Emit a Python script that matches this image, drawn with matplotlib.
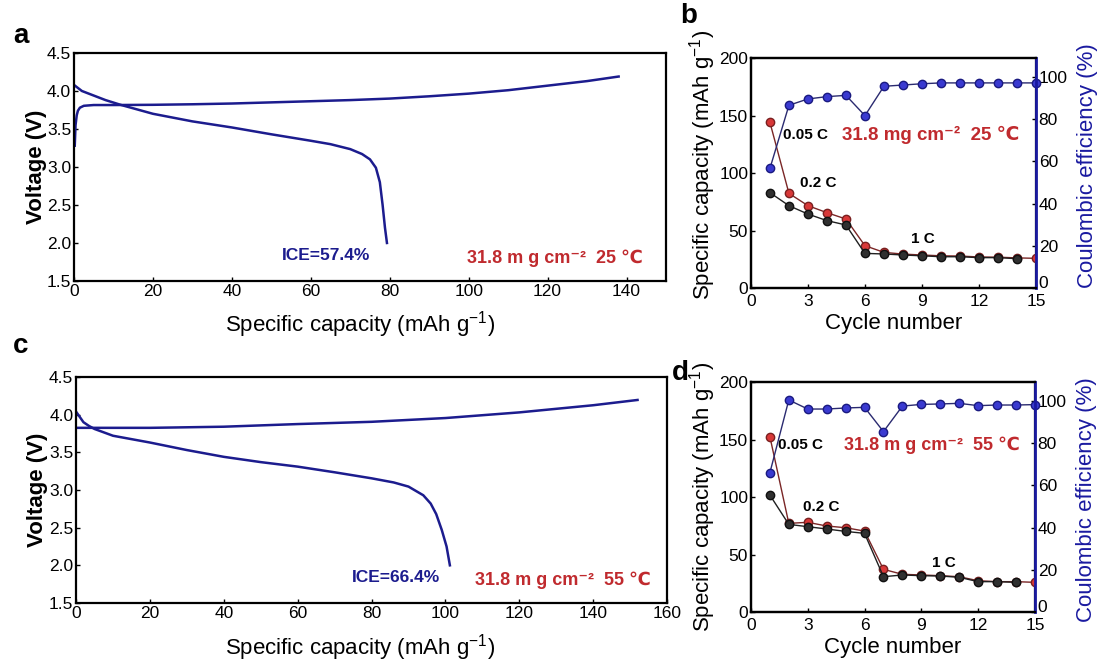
import numpy as np
import matplotlib
matplotlib.use('Agg')
from matplotlib import pyplot as plt

# ---- panel a : first charge / discharge at 25 C
a_charge_cap = [0.2, 0.4, 0.7, 1.0, 1.5, 2.5, 5, 10, 20, 30, 40, 50, 60, 70, 80, 90, 100, 110, 120, 130, 138]
a_charge_v = [3.28, 3.55, 3.68, 3.74, 3.78, 3.805, 3.815, 3.815, 3.818, 3.825, 3.835, 3.85, 3.865, 3.88, 3.90, 3.93, 3.965, 4.01, 4.07, 4.13, 4.19]
a_dis_cap = [0, 2, 5, 8, 12, 20, 30, 40, 50, 60, 65, 70, 73, 75, 76.5, 77.5, 78.2, 78.8, 79.3]
a_dis_v = [4.08, 4.0, 3.94, 3.88, 3.815, 3.70, 3.60, 3.52, 3.43, 3.345, 3.30, 3.235, 3.17, 3.10, 2.99, 2.80, 2.5, 2.2, 2.0]

# ---- panel c : first charge / discharge at 55 C
c_charge_cap = [0, 10, 20, 27, 40, 60, 80, 100, 120, 140, 152]
c_charge_v = [3.825, 3.825, 3.825, 3.83, 3.84, 3.875, 3.905, 3.955, 4.03, 4.125, 4.195]
c_dis_cap = [0, 1, 2, 3.5, 5, 10, 20, 30, 40, 50, 60, 70, 80, 86, 90, 94, 96, 97.5, 99, 100.3, 101.2]
c_dis_v = [4.04, 3.97, 3.90, 3.85, 3.81, 3.72, 3.63, 3.53, 3.44, 3.37, 3.31, 3.235, 3.155, 3.10, 3.045, 2.93, 2.82, 2.68, 2.47, 2.25, 2.0]

# ---- panel b : rate cycling at 25 C
b_cycle_red = list(range(1, 16))
b_red = [144, 82.3, 71.6, 65.5, 60, 36.8, 31, 29.5, 28.7, 28, 27.8, 27, 26.8, 26.2, 25.8]
b_cycle_black = list(range(1, 15))
b_black = [82.9, 71.6, 64.3, 58.6, 54.8, 30.1, 29.6, 28.7, 28, 27.2, 27.2, 26.4, 26.4, 25.5]
b_cycle_ce = list(range(1, 16))
b_ce = [56.7, 86.6, 89.6, 90.7, 91.3, 81.7, 95.6, 96.2, 96.8, 97.2, 97.2, 97.2, 97.2, 97.2, 97.2]

# ---- panel d : rate cycling at 55 C
d_cycle_red = list(range(1, 16))
d_red = [152.5, 77.1, 78, 74.8, 73.3, 70.4, 37.1, 32.8, 32.2, 31.6, 30.7, 27.2, 26.4, 26.4, 25.8]
d_cycle_black = list(range(1, 15))
d_black = [101.7, 76.2, 74.2, 72.2, 70.1, 68.4, 30.7, 32.2, 31.6, 31.3, 30.2, 26.4, 26.4, 25.8]
d_cycle_ce = list(range(1, 16))
d_ce = [66, 100.5, 96.2, 96.2, 96.7, 97, 85.5, 97.6, 98.4, 98.6, 98.9, 97.8, 98.1, 98.1, 98.3]

navy = '#1c1c8e'
red_txt = '#c02a2e'
sans = ['Liberation Sans', 'DejaVu Sans']


def frame(ax, xpad=2):
	for s in ax.spines.values():
		s.set_linewidth(1.6)
	ax.tick_params(direction='in', length=3, width=1, labelsize=12.5, pad=2)
	ax.tick_params(axis='x', pad=xpad)
	for lab in ax.get_xticklabels() + ax.get_yticklabels():
		lab.set_family(sans)


def voltage_panel(ax, ccap, cv, dcap, dv, xmax, xticks, ice, ice_x, temp_x, label):
	ax.plot(ccap, cv, color=navy, lw=1.8)
	ax.plot(dcap, dv, color=navy, lw=1.8)
	ax.set_xlim(0, xmax)
	ax.set_ylim(1.5, 4.5)
	ax.set_xticks(xticks)
	ax.set_yticks(np.arange(1.5, 4.51, 0.5))
	ax.set_yticklabels(['%.1f' % v for v in np.arange(1.5, 4.51, 0.5)])
	frame(ax)
	ax.text(ice_x, 1.84, ice, color=navy, fontsize=12.5, fontweight='bold', family=sans, va='center')
	ax.text(temp_x, 1.80, label, color=red_txt, fontsize=13, fontweight='bold', family=sans, va='center')
	ax.set_xlabel('Specific capacity (mAh g$^{-1}$)', fontsize=16, family=sans)
	ax.set_ylabel('Voltage (V)', fontsize=16, fontweight='bold', family=sans)


def cycle_panel(ax, xr, red, xb, black, xc, ce, label, tsize, tpos, lab05, lab02, lab1):
	ax.plot(xr, red, color='#7a2626', lw=1, marker='o', ms=6, mfc='#d83838', mec='#7a2020', zorder=3)
	ax.plot(xb, black, color='#202020', lw=1, marker='o', ms=6, mfc='#303030', mec='#101010', zorder=4)
	ax.set_xlim(0, 15)
	ax.set_ylim(0, 200)
	ax.set_xticks(range(0, 16, 3))
	ax.set_yticks(range(0, 201, 50))
	ax2 = ax.twinx()
	ax2.plot(xc, ce, color='#2a2a70', lw=1, marker='o', ms=6, mfc='#3a3ad0', mec='#1a1a80', clip_on=False)
	ax2.set_ylim(0, 109)
	ax2.set_yticks(range(0, 101, 20))
	frame(ax, xpad=4)
	frame(ax2)
	ax2.get_yticklabels()[0].set_va('baseline')
	ax2.spines['right'].set_color('#1a1aa0')
	ax2.spines['right'].set_linewidth(2)
	ax.text(lab05[0], lab05[1], '0.05 C', fontsize=11, fontweight='bold', family=sans, va='center')
	ax.text(lab02[0], lab02[1], '0.2 C', fontsize=11, fontweight='bold', family=sans, va='center')
	ax.text(lab1[0], lab1[1], '1 C', fontsize=11, fontweight='bold', family=sans, va='center')
	ax.text(tpos[0], tpos[1], label, color=red_txt, fontsize=tsize, fontweight='bold', family=sans, va='center')
	ax.set_xlabel('Cycle number', fontsize=16, family=sans)
	ax.set_ylabel('Specific capacity (mAh g$^{-1}$)', fontsize=16, family=sans)
	ax2.set_ylabel('Coulombic efficiency (%)', fontsize=16, family=sans, color='#1a1aa0')
	return ax2


def main():
	plt.rcParams['mathtext.default'] = 'regular'
	fig = plt.figure(figsize=(10.99, 6.63), dpi=100)

	ax_a = fig.add_axes([0.0673, 0.5762, 0.5387, 0.3439])
	voltage_panel(ax_a, a_charge_cap, a_charge_v, a_dis_cap, a_dis_v, 150, range(0, 141, 20),
		'ICE=57.4%', 52.7, 99.6, '31.8 m g cm\u207b\u00b2  25 \u2103')
	ax_a.xaxis.set_label_coords(0.483, -0.125)
	ax_a.yaxis.set_label_coords(-0.046, 0.5)

	ax_c = fig.add_axes([0.0692, 0.0905, 0.5378, 0.3409])
	voltage_panel(ax_c, c_charge_cap, c_charge_v, c_dis_cap, c_dis_v, 160, range(0, 161, 20),
		'ICE=66.4%', 74.6, 108, '31.8 m g cm\u207b\u00b2  55 \u2103')
	ax_c.xaxis.set_label_coords(0.48, -0.13)
	ax_c.yaxis.set_label_coords(-0.048, 0.5)

	ax_b = fig.add_axes([0.6833, 0.5656, 0.2593, 0.3469])
	b2 = cycle_panel(ax_b, b_cycle_red, b_red, b_cycle_black, b_black, b_cycle_ce, b_ce,
		'31.8 mg cm\u207b\u00b2  25 \u2103', 13.5, (4.8, 133), (1.7, 133), (2.6, 91.6), (8.4, 42.6))
	ax_b.xaxis.set_label_coords(0.5, -0.11)
	ax_b.yaxis.set_label_coords(-0.115, 0.535)
	b2.yaxis.set_label_coords(1.145, 0.53)

	ax_d = fig.add_axes([0.6833, 0.0769, 0.2584, 0.3469])
	d2 = cycle_panel(ax_d, d_cycle_red, d_red, d_cycle_black, d_black, d_cycle_ce, d_ce,
		'31.8 m g cm\u207b\u00b2  55 \u2103', 13, (4.9, 145), (1.43, 145), (2.75, 91.6), (9.55, 42.3))
	ax_d.xaxis.set_label_coords(0.5, -0.11)
	ax_d.yaxis.set_label_coords(-0.115, 0.5)
	d2.yaxis.set_label_coords(1.145, 0.487)

	# panel letters
	for x, y, s in [(0.012, 0.945, 'a'), (0.619, 0.976, 'b'), (0.012, 0.478, 'c'), (0.611, 0.437, 'd')]:
		fig.text(x, y, s, fontsize=20, fontweight='bold', family=sans, va='center')

	fig.savefig('out.png', dpi=100)


if __name__ == '__main__':
	main()
